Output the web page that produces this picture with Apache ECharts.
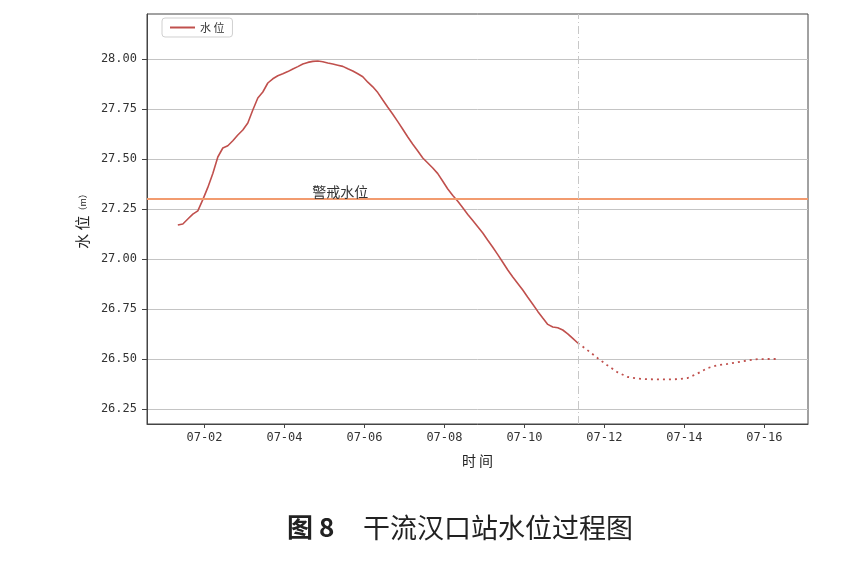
<!DOCTYPE html>
<html>
<head>
<meta charset="utf-8">
<script src="https://cdn.jsdelivr.net/npm/echarts@6/dist/echarts.min.js"></script>
<style>
html, body { margin: 0; padding: 0; background: #fff; }
#main { width: 854px; height: 568px; }
</style>
</head>
<body>
<div id="main"></div>
<script>
// 实测水位：从 07-01 08:00 起，每 3 小时一个点
var obsStart = '2020-07-01T08:00';
var obsStepHours = 3;
var obsLevel = [
    27.170, 27.175, 27.200, 27.224, 27.241, 27.297, 27.358, 27.427, 27.510, 27.555,
    27.566, 27.591, 27.620, 27.645, 27.680, 27.745, 27.805, 27.835, 27.880, 27.901,
    27.916, 27.926, 27.937, 27.950, 27.962, 27.975, 27.983, 27.988, 27.990, 27.986,
    27.980, 27.975, 27.969, 27.963, 27.951, 27.940, 27.926, 27.911, 27.884, 27.861,
    27.832, 27.795, 27.759, 27.724, 27.687, 27.649, 27.610, 27.574, 27.540, 27.505,
    27.480, 27.455, 27.427, 27.389, 27.350, 27.318, 27.289, 27.256, 27.223, 27.192,
    27.161, 27.130, 27.094, 27.059, 27.022, 26.984, 26.945, 26.910, 26.878, 26.845,
    26.809, 26.774, 26.738, 26.705, 26.673, 26.660, 26.656, 26.645, 26.626, 26.603,
    26.580
];
// 预报水位：从 07-11 08:00 起，每 6 小时一个点
var fcstStart = '2020-07-11T08:00';
var fcstStepHours = 6;
var fcstLevel = [
    26.580, 26.543, 26.504, 26.467, 26.433, 26.410, 26.402, 26.399, 26.398, 26.398,
    26.399, 26.405, 26.428, 26.455, 26.469, 26.476, 26.484, 26.493, 26.499, 26.500,
    26.500
];
var warnLevel = 27.30;
var warnLabelTime = '2020-07-04T17:00';
var nowTime = '2020-07-11T08:00';
var xMin = '2020-06-30T13:30';
var xMax = '2020-07-17T02:10';
var xTicks = ['2020-07-02T00:00', '2020-07-04T00:00', '2020-07-06T00:00', '2020-07-08T00:00',
              '2020-07-10T00:00', '2020-07-12T00:00', '2020-07-14T00:00', '2020-07-16T00:00'];
var yTicks = [26.25, 26.50, 26.75, 27.00, 27.25, 27.50, 27.75, 28.00];

function ts(s) { return new Date(s).getTime(); }
function toPairs(start, stepHours, vals) {
    var t0 = ts(start);
    return vals.map(function (v, i) { return [t0 + i * stepHours * 3600 * 1000, v]; });
}
function pad(n) { return n < 10 ? '0' + n : '' + n; }

var red = '#c0504d';
var labelFont = 'DejaVu Sans Mono';
var cjkFont = '"Noto Sans CJK SC", sans-serif';

var chart = echarts.init(document.getElementById('main'));
chart.setOption({
    animation: false,
    backgroundColor: '#fff',
    grid: {
        left: 147, right: 46, top: 14, bottom: 144,
        show: true, borderColor: '#444', borderWidth: 1
    },
    legend: {
        data: [{ name: '水 位', icon: 'rect' }],
        left: 162, top: 18,
        padding: [4, 8],
        itemWidth: 25, itemHeight: 2,
        backgroundColor: '#fff',
        borderColor: '#d0d0d0', borderWidth: 1, borderRadius: 3,
        textStyle: { fontFamily: cjkFont, fontSize: 11, color: '#333' }
    },
    xAxis: {
        // 时间戳当数值轴用，刻度只放在偶数日
        type: 'value',
        min: ts(xMin), max: ts(xMax),
        name: '时 间',
        nameLocation: 'middle',
        nameGap: 30,
        nameTextStyle: { fontFamily: cjkFont, fontSize: 14, color: '#222' },
        axisLine: { show: true, lineStyle: { color: '#444' } },
        axisTick: { show: true, inside: false, length: 4, lineStyle: { color: '#444' },
                    customValues: xTicks.map(ts) },
        axisLabel: {
            customValues: xTicks.map(ts),
            margin: 8,
            fontFamily: labelFont, fontSize: 12, color: '#333',
            formatter: function (v) {
                var d = new Date(v);
                return pad(d.getMonth() + 1) + '-' + pad(d.getDate());
            }
        },
        splitLine: { show: false }
    },
    yAxis: {
        type: 'value',
        min: 26.175, max: 28.225,
        name: '{a|水 位}{b|（m）}',
        nameLocation: 'middle',
        nameGap: 50,
        nameTextStyle: {
            rich: {
                a: { fontFamily: cjkFont, fontSize: 15, color: '#222' },
                b: { fontFamily: cjkFont, fontSize: 9, color: '#222' }
            }
        },
        axisLine: { show: true, lineStyle: { color: '#444' } },
        axisTick: { show: true, inside: false, length: 5, lineStyle: { color: '#444' },
                    customValues: yTicks },
        axisLabel: {
            customValues: yTicks,
            margin: 10,
            fontFamily: labelFont, fontSize: 12, color: '#333',
            formatter: function (v) { return v.toFixed(2); }
        },
        splitLine: { show: true, lineStyle: { color: '#c4c4c4', width: 1 } }
    },
    series: [
        {
            name: '水 位',
            type: 'line',
            symbol: 'none',
            data: toPairs(obsStart, obsStepHours, obsLevel),
            lineStyle: { color: red, width: 1.6 },
            itemStyle: { color: red },
            markLine: {
                silent: true,
                symbol: ['none', 'none'],
                label: { show: false },
                data: [
                    { yAxis: warnLevel, lineStyle: { color: '#f29b6f', width: 2, type: 'solid' } },
                    { xAxis: ts(nowTime), lineStyle: { color: '#c8c8c8', width: 1, type: [8, 3, 1, 3] } }
                ]
            },
            markPoint: {
                silent: true,
                data: [{
                    coord: [ts(warnLabelTime), warnLevel],
                    symbol: 'rect', symbolSize: 1,
                    itemStyle: { color: 'rgba(0,0,0,0)' },
                    label: {
                        show: true, formatter: '警戒水位',
                        position: [0, -14],
                        fontFamily: cjkFont, fontSize: 14, color: '#333'
                    }
                }]
            }
        },
        {
            name: '预报',
            type: 'line',
            symbol: 'none',
            data: toPairs(fcstStart, fcstStepHours, fcstLevel),
            lineStyle: { color: red, width: 1.8, type: [2, 4] },
            itemStyle: { color: red }
        }
    ],
    graphic: [
        { type: 'text', left: 287, top: 514,
          style: { text: '图 8', font: 'bold 26px "Noto Sans CJK SC"', fill: '#222' } },
        { type: 'text', left: 363, top: 514,
          style: { text: '干流汉口站水位过程图', font: '27px "Noto Sans CJK SC"', fill: '#222' } }
    ]
});
</script>
</body>
</html>
